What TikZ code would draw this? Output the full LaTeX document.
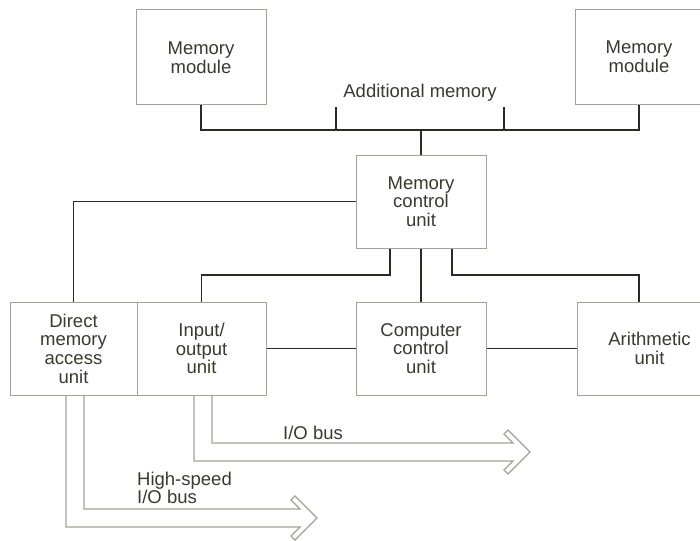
\documentclass[tikz,border=0pt]{standalone}
\usepackage{fontspec}
\setmainfont{Liberation Sans}
\definecolor{boxc}{HTML}{A3A394}
\definecolor{linec}{HTML}{2B2B25}
\definecolor{txt}{HTML}{3A3A30}
\newcommand{\boxfont}{\fontsize{18.5}{18.6}\selectfont}
\begin{document}
\begin{tikzpicture}[x=1pt,y=-1pt,
  box/.style={draw=boxc, line width=1pt, align=center, text=txt, font=\boxfont, inner sep=0pt},
  conn/.style={draw=linec, line width=1.8pt},
  busarrow/.style={draw=boxc, line width=1.1pt, line join=miter},
  lab/.style={text=txt, font=\boxfont, inner sep=0pt}]
\useasboundingbox (0,0) rectangle (700,540);
\clip (0,0) rectangle (700,540);
\fill[white] (0,0) rectangle (700,540);

% boxes
\node[box, minimum width=130pt, minimum height=95pt] (mm1) at (201,57.5) {Memory\\module};
\node[box, minimum width=128pt, minimum height=95pt] (mm2) at (639,57) {Memory\\module};
\node[box, minimum width=130pt, minimum height=93pt] (mcu) at (421,201.5) {Memory\\control\\unit};
\node[box, minimum width=127pt, minimum height=93pt] (dma) at (73.5,348.5) {Direct\\memory\\access\\unit};
\node[box, minimum width=129pt, minimum height=93pt] (io) at (201.5,348.5) {Input/\\output\\unit};
\node[box, minimum width=130pt, minimum height=93pt] (ccu) at (421,348.5) {Computer\\control\\unit};
\node[box, minimum width=145pt, minimum height=93pt] (alu) at (649.5,348.5) {Arithmetic\\unit};

% additional memory bus
\coordinate (busL) at (201,130);
\coordinate (busR) at (639,130);
\draw[conn] (mm1.south) -- (busL) -- (busR) -- (mm2.south);
\coordinate (tk1) at (336,107); \coordinate (tk1b) at (336,130);
\coordinate (tk2) at (504,107); \coordinate (tk2b) at (504,130);
\draw[conn] (tk1) -- (tk1b);
\draw[conn] (tk2) -- (tk2b);
\draw[conn] (mcu.north) -- (mcu.north |- busL);
\node[lab, anchor=base] (addmem) at (420,98) {Additional memory};

% memory control connections
\draw[conn] (mcu.west) -| (dma.north);
\coordinate (jl) at (390,275);
\draw[conn] (mcu.south -| jl) -- (jl) -| (io.north);
\draw[conn] (mcu.south) -- (ccu.north);
\coordinate (jr) at (452,275);
\coordinate (alutop) at (639,302);
\draw[conn] (mcu.south -| jr) -- (jr) -| (alutop);
\draw[conn] (io.east) -- (ccu.west);
\draw[conn] (ccu.east) -- (alu.west);

% I/O bus
\coordinate (ioOut) at (194,395);
\coordinate (ioIn) at (212,395);
\coordinate (ioTip) at (530,452);
\draw[busarrow] (ioOut) -- (194,461) -- (513,461) -- (504,470) -- (508,474) -- (ioTip)
  -- (508,430) -- (504,434) -- (513,443) -- (212,443) -- (ioIn);
\node[lab, anchor=base west] (iobus) at (283,439) {I/O bus};

% high-speed I/O bus
\coordinate (dmaOut) at (66,395);
\coordinate (dmaIn) at (84,395);
\coordinate (dmaTip) at (317,518);
\draw[busarrow] (dmaOut) -- (66,527) -- (300,527) -- (291,536) -- (295,540) -- (dmaTip)
  -- (295,496) -- (291,500) -- (300,509) -- (84,509) -- (dmaIn);
\node[lab, anchor=base west] (hs1) at (137,485) {High-speed};
\node[lab, anchor=base west] (hs2) at (137,503) {I/O bus};
\end{tikzpicture}
\end{document}
